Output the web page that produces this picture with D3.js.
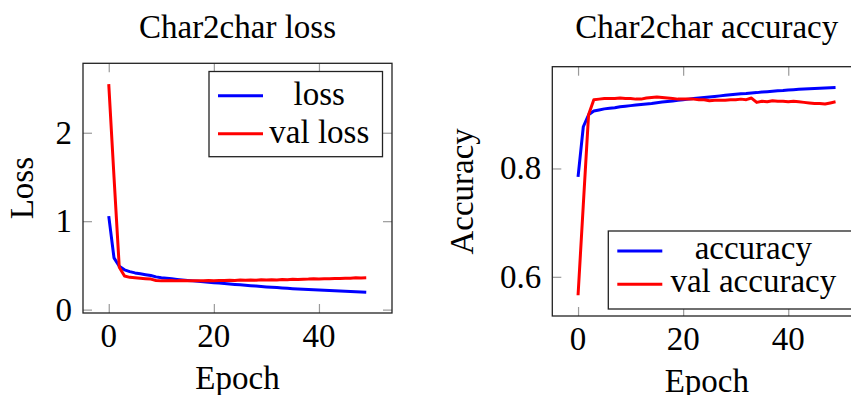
<!DOCTYPE html>
<html>
<head>
<meta charset="utf-8">
<script src="https://cdn.jsdelivr.net/npm/d3@7"></script>
<style>
  html, body { margin: 0; padding: 0; background: #fff; }
  svg { display: block; }
  text { font-family: "Liberation Serif", "Times New Roman", serif; fill: #000; }
</style>
</head>
<body>
<svg id="chart" width="851" height="395"></svg>
<script>
// ---- data ----
const epochs = d3.range(0, 50);
const loss = [1.057, 0.585, 0.49, 0.45, 0.43, 0.415, 0.405, 0.395, 0.385, 0.37,
  0.36, 0.354, 0.348, 0.342, 0.336, 0.33, 0.325, 0.32, 0.315, 0.31,
  0.305, 0.30, 0.295, 0.29, 0.285, 0.28, 0.275, 0.27, 0.266, 0.261,
  0.257, 0.253, 0.249, 0.245, 0.241, 0.237, 0.234, 0.231, 0.228, 0.225,
  0.222, 0.219, 0.216, 0.213, 0.21, 0.208, 0.205, 0.203, 0.20, 0.197];
const valLoss = [2.55, 1.5, 0.48, 0.38, 0.365, 0.36, 0.355, 0.35, 0.345, 0.33,
  0.325, 0.327, 0.33, 0.325, 0.328, 0.325, 0.327, 0.325, 0.326, 0.328,
  0.327, 0.33, 0.328, 0.332, 0.33, 0.334, 0.331, 0.335, 0.333, 0.337,
  0.334, 0.338, 0.336, 0.34, 0.338, 0.342, 0.34, 0.344, 0.345, 0.348,
  0.347, 0.35, 0.349, 0.353, 0.352, 0.355, 0.356, 0.359, 0.358, 0.36];
const accuracy = [0.7845, 0.877, 0.899, 0.906, 0.908, 0.910, 0.911, 0.912, 0.914, 0.915,
  0.916, 0.917, 0.918, 0.919, 0.920, 0.9215, 0.9225, 0.9235, 0.9245, 0.926,
  0.927, 0.928, 0.929, 0.930, 0.931, 0.932, 0.933, 0.934, 0.935, 0.936,
  0.937, 0.938, 0.9385, 0.9395, 0.940, 0.941, 0.9418, 0.9425, 0.9433, 0.944,
  0.945, 0.9455, 0.946, 0.9465, 0.947, 0.9475, 0.948, 0.9485, 0.949, 0.9495];
const valAccuracy = [0.566, 0.733, 0.899, 0.927, 0.928, 0.929, 0.929, 0.929, 0.930, 0.929,
  0.929, 0.928, 0.928, 0.930, 0.931, 0.932, 0.931, 0.930, 0.929, 0.928,
  0.928, 0.928, 0.928, 0.927, 0.927, 0.925, 0.926, 0.926, 0.926, 0.927,
  0.927, 0.928, 0.927, 0.930, 0.922, 0.924, 0.923, 0.925, 0.924, 0.924,
  0.923, 0.924, 0.923, 0.922, 0.921, 0.920, 0.920, 0.919, 0.921, 0.923];
const xTicks = [0, 20, 40];
const lossTicks = [0, 1, 2];
const accTicks = [0.6, 0.8];
const titles = ["Char2char loss", "Char2char accuracy"];
const yLabels = ["Loss", "Accuracy"];
const xLabel = "Epoch";
const lossLegend = ["loss", "val loss"];
const accLegend = ["accuracy", "val accuracy"];
const colors = ["#0000ff", "#ff0000"];

// ---- layout ----
const svg = d3.select("#chart");
const FS = 33;

function enlarge(ext) {
  const pad = (ext[1] - ext[0]) * 0.1;
  return [ext[0] - pad, ext[1] + pad];
}

function panel(cfg) {
  const g = svg.append("g");
  const x = d3.scaleLinear().domain(enlarge(d3.extent(epochs))).range([cfg.left, cfg.right]);
  const allY = cfg.series.flat();
  const y = d3.scaleLinear().domain(enlarge(d3.extent(allY))).range([cfg.bottom, cfg.top]);
  const W = cfg.right - cfg.left, H = cfg.bottom - cfg.top;

  // tick marks (inside, on both sides)
  const tickLen = 9;
  const tickColor = "#9a9a9a";
  const xb = d3.axisBottom(x).tickValues(cfg.xTicks).tickSize(tickLen).tickFormat("");
  const xt = d3.axisTop(x).tickValues(cfg.xTicks).tickSize(tickLen).tickFormat("");
  const yl = d3.axisLeft(y).tickValues(cfg.yTicks).tickSize(tickLen).tickFormat("");
  const yr = d3.axisRight(y).tickValues(cfg.yTicks).tickSize(tickLen).tickFormat("");
  const ticks = [
    g.append("g").attr("transform", `translate(0,${cfg.bottom - tickLen})`).call(xb),
    g.append("g").attr("transform", `translate(0,${cfg.top + tickLen})`).call(xt),
    g.append("g").attr("transform", `translate(${cfg.left + tickLen},0)`).call(yl),
    g.append("g").attr("transform", `translate(${cfg.right - tickLen},0)`).call(yr)
  ];
  ticks.forEach(t => {
    t.select(".domain").remove();
    t.selectAll(".tick line").attr("stroke", tickColor).attr("stroke-width", 1.2);
  });

  // series
  const line = d3.line().x((d, i) => x(epochs[i])).y(d => y(d));
  cfg.series.forEach((s, k) => {
    g.append("path").datum(s)
      .attr("d", line)
      .attr("fill", "none")
      .attr("stroke", colors[k])
      .attr("stroke-width", 3)
      .attr("stroke-linejoin", "round");
  });

  // frame
  g.append("rect").attr("x", cfg.left).attr("y", cfg.top).attr("width", W).attr("height", H)
    .attr("fill", "none").attr("stroke", "#222").attr("stroke-width", 1.3);

  // tick labels
  g.selectAll(".xl").data(cfg.xTicks).enter().append("text")
    .attr("x", d => x(d)).attr("y", cfg.bottom + 34)
    .attr("text-anchor", "middle").attr("font-size", FS).text(d => d);
  g.selectAll(".yl").data(cfg.yTicks).enter().append("text")
    .attr("x", cfg.left - 11).attr("y", d => y(d) + 11)
    .attr("text-anchor", "end").attr("font-size", FS).text(d => d);

  // titles & labels
  g.append("text").attr("x", (cfg.left + cfg.right) / 2).attr("y", 37.5)
    .attr("text-anchor", "middle").attr("font-size", FS).text(cfg.title);
  g.append("text").attr("x", (cfg.left + cfg.right) / 2).attr("y", cfg.bottom + 76)
    .attr("text-anchor", "middle").attr("font-size", FS).text(xLabel);
  g.append("text")
    .attr("transform", `translate(${cfg.yLabelX},${(cfg.top + cfg.bottom) / 2}) rotate(-90)`)
    .attr("text-anchor", "middle").attr("font-size", FS).text(cfg.yLabel);

  // legend
  const L = cfg.legend;
  g.append("rect").attr("x", L.x0).attr("y", L.y0).attr("width", L.x1 - L.x0).attr("height", L.y1 - L.y0)
    .attr("fill", "#fff").attr("stroke", "#222").attr("stroke-width", 1.3);
  cfg.legendLabels.forEach((lab, k) => {
    const ly = L.rows[k];
    g.append("line").attr("x1", L.x0 + 9).attr("x2", L.x0 + 54).attr("y1", ly).attr("y2", ly)
      .attr("stroke", colors[k]).attr("stroke-width", 3);
    g.append("text").attr("x", L.textX).attr("y", ly + L.dy)
      .attr("text-anchor", "middle").attr("font-size", FS).text(lab);
  });
}

panel({
  left: 83, right: 392, top: 63.3, bottom: 313,
  series: [loss, valLoss], xTicks: xTicks, yTicks: lossTicks,
  title: titles[0], yLabel: yLabels[0], yLabelX: 33,
  legend: { x0: 209, x1: 382.5, y0: 71.5, y1: 156.7, rows: [95.7, 133.7], textX: 319.3, dy: 9 },
  legendLabels: lossLegend
});

panel({
  left: 552.3, right: 861.3, top: 66.7, bottom: 316,
  series: [accuracy, valAccuracy], xTicks: xTicks, yTicks: accTicks,
  title: titles[1], yLabel: yLabels[1], yLabelX: 473,
  legend: { x0: 608.3, x1: 852, y0: 231, y1: 309, rows: [251, 284.3], textX: 753.3, dy: 7.5 },
  legendLabels: accLegend
});
</script>
</body>
</html>
